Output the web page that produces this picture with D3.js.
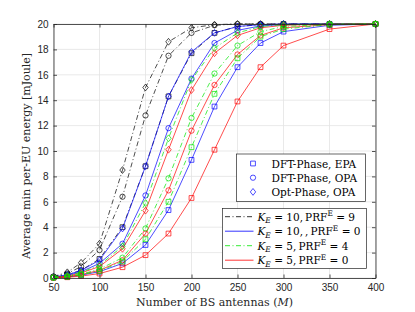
<!DOCTYPE html>
<html><head><meta charset="utf-8">
<script src="https://cdn.jsdelivr.net/npm/d3@7"></script>
<style>body{margin:0;background:#fff}svg{display:block}</style>
</head><body><svg id="c" width="415" height="312"></svg>
<script>
// ---- data ----
const antennas = [50,65,80,100,125,150,175,200,225,250,275,300,350,400];
const xTickValues = [50,100,150,200,250,300,350,400];
const yTickValues = [0,2,4,6,8,10,12,14,16,18,20];

// K_E = 10, PRF^E = 9 (black, dash-dot)
const k10p9Epa = [0.08,0.25,0.6,1.5,4.0,8.8,14.3,17.7,19.3,19.8,19.95,20,20,20];
const k10p9Opa = [0.1,0.35,0.9,2.2,6.4,12.8,17.5,19.3,19.9,20,20,20,20,20];
const k10p9Opt = [0.12,0.45,1.2,2.7,8.5,15.0,18.6,19.7,19.95,20,20,20,20,20];
// K_E = 10, PRF^E = 0 (blue, solid)
const k10p0Epa = [0.03,0.08,0.22,0.5,1.15,2.6,5.35,9.3,13.5,16.6,18.5,19.4,19.9,20];
const k10p0Opa = [0.06,0.2,0.5,1.15,2.7,6.5,11.8,15.7,18.5,19.5,19.85,19.95,20,20];
const k10p0Opt = [0.08,0.25,0.6,1.4,3.9,8.8,14.3,17.8,19.3,19.8,19.95,20,20,20];
// K_E = 5, PRF^E = 4 (green, dash-dot)
const k5p4Epa = [0.03,0.1,0.25,0.55,1.3,3.05,6.0,10.3,14.5,17.3,19.0,19.6,19.95,20];
const k5p4Opa = [0.04,0.12,0.3,0.7,1.6,3.9,7.85,12.6,16.1,18.3,19.4,19.8,19.98,20];
const k5p4Opt = [0.06,0.18,0.45,1.0,2.5,5.9,11.0,15.6,18.1,19.3,19.8,19.95,20,20];
// K_E = 5, PRF^E = 0 (red, solid)
const k5p0Epa = [0.02,0.06,0.15,0.35,0.85,1.8,3.5,6.3,10.1,13.9,16.6,18.3,19.6,20];
const k5p0Opa = [0.04,0.1,0.28,0.6,1.4,3.5,6.9,11.6,15.2,17.6,19.1,19.7,19.95,20];
const k5p0Opt = [0.05,0.15,0.4,0.9,2.3,5.3,10.1,14.8,17.7,19.1,19.7,19.9,20,20];

const methodLabels = ["DFT-Phase, EPA","DFT-Phase, OPA","Opt-Phase, OPA"];
const methodMarkers = ["square","circle","diamond"];
const configK = ["10","10","5","5"];
const configMid = [",\u2009",",\u2009,\u2009",",\u2009",",\u2009"];
const configPRF = ["9","0","4","0"];
const configColors = ["#000000","#0000ff","#00e600","#ff0000"];
const configDash = ["5,2.5,1,2.5",null,"5,2.5,1,2.5",null];

const seriesByConfig = [
  [k10p9Epa,k10p9Opa,k10p9Opt],
  [k10p0Epa,k10p0Opa,k10p0Opt],
  [k5p0Epa,k5p0Opa,k5p0Opt],
  [k5p4Epa,k5p4Opa,k5p4Opt]
];
const seriesConfigIdx = [0,1,3,2];

// ---- drawing ----
const svg = d3.select("#c");
const L=53.5, R=375.5, T=24, B=278;
const x = d3.scaleLinear().domain([50,400]).range([L,R]);
const y = d3.scaleLinear().domain([0,20]).range([B,T]);
const axisCol = "#262626";

svg.append("rect").attr("width",415).attr("height",312).attr("fill","#fff");

// grid
const g = svg.append("g");
g.selectAll(".gx").data(xTickValues).join("line")
  .attr("x1",d=>x(d)).attr("x2",d=>x(d)).attr("y1",T).attr("y2",B)
  .attr("stroke","#e3e3e3").attr("stroke-width",0.8);
g.selectAll(".gy").data(yTickValues).join("line")
  .attr("y1",d=>y(d)).attr("y2",d=>y(d)).attr("x1",L).attr("x2",R)
  .attr("stroke","#e3e3e3").attr("stroke-width",0.8);

// series
function markerPath(type){
  if(type==="square") return "M-2.4,-2.4H2.4V2.4H-2.4Z";
  if(type==="circle") return d3.symbol(d3.symbolCircle, 22)();
  return "M0,-3.4L2.7,0L0,3.4L-2.7,0Z";
}
const line = d3.line().x((d,i)=>x(antennas[i])).y(d=>y(d));
const plot = svg.append("g");
seriesByConfig.forEach((ser,ci)=>{
  const cfg = seriesConfigIdx[ci];
  ser.forEach((vals,mi)=>{
    plot.append("path").attr("d",line(vals)).attr("fill","none")
      .attr("stroke",configColors[cfg]).attr("stroke-width",0.7)
      .attr("stroke-dasharray",configDash[cfg]);
    plot.selectAll(null).data(vals).join("path")
      .attr("transform",(d,i)=>`translate(${x(antennas[i])},${y(d)})`)
      .attr("d",markerPath(methodMarkers[mi])).attr("fill","none")
      .attr("stroke",configColors[cfg]).attr("stroke-width",0.7);
  });
});

// axes
const fontSans = "'Liberation Sans', Arial, sans-serif";
const xa = svg.append("g").attr("transform",`translate(0,${B})`)
  .call(d3.axisBottom(x).tickValues(xTickValues).tickSizeInner(-3.5).tickSizeOuter(0).tickPadding(6));
const xt = svg.append("g").attr("transform",`translate(0,${T})`)
  .call(d3.axisTop(x).tickValues(xTickValues).tickSizeInner(-3.5).tickSizeOuter(0).tickFormat(""));
const ya = svg.append("g").attr("transform",`translate(${L},0)`)
  .call(d3.axisLeft(y).tickValues(yTickValues).tickSizeInner(-3.5).tickSizeOuter(0).tickPadding(5));
const yr = svg.append("g").attr("transform",`translate(${R},0)`)
  .call(d3.axisRight(y).tickValues(yTickValues).tickSizeInner(-3.5).tickSizeOuter(0).tickFormat(""));
[xa,xt,ya,yr].forEach(a=>{
  a.select(".domain").attr("stroke",axisCol).attr("stroke-width",0.8);
  a.selectAll(".tick line").attr("stroke",axisCol).attr("stroke-width",0.8);
  a.selectAll(".tick text").attr("fill",axisCol).attr("font-family",fontSans).attr("font-size",10);
});

// axis titles
const fontSerif = "'DejaVu Serif', 'Liberation Serif', serif";
const xl = svg.append("text").attr("x",(L+R)/2).attr("y",306).attr("text-anchor","middle")
  .attr("font-family",fontSerif).attr("font-size",11).attr("fill",axisCol);
xl.append("tspan").text("Number of BS antennas (");
xl.append("tspan").attr("font-style","italic").text("M");
xl.append("tspan").text(")");
svg.append("text").attr("transform",`translate(30,${(T+B)/2+5}) rotate(-90)`).attr("text-anchor","middle")
  .attr("font-family",fontSerif).attr("font-size",11).attr("fill",axisCol)
  .text("Average min per-EU energy [mJoule]");

// legend 1 (methods)
const lg1 = svg.append("g");
lg1.append("rect").attr("x",236.5).attr("y",154).attr("width",129).attr("height",47.5)
  .attr("fill","#fff").attr("stroke",axisCol).attr("stroke-width",0.7);
methodLabels.forEach((lab,i)=>{
  const yy = 163.5 + i*14.2;
  lg1.append("path").attr("transform",`translate(253,${yy})`).attr("d",markerPath(methodMarkers[i]))
    .attr("fill","none").attr("stroke","#0000ff").attr("stroke-width",0.7);
  lg1.append("text").attr("x",271.5).attr("y",yy+4).attr("font-family",fontSerif).attr("font-size",10.5)
    .attr("fill","#000").text(lab);
});

// legend 2 (configs)
const lg2 = svg.append("g");
lg2.append("rect").attr("x",222.5).attr("y",208.5).attr("width",144).attr("height",60)
  .attr("fill","#fff").attr("stroke",axisCol).attr("stroke-width",0.7);
configK.forEach((k,i)=>{
  const yy = 216.7 + i*14.5;
  lg2.append("line").attr("x1",225).attr("x2",253.5).attr("y1",yy).attr("y2",yy)
    .attr("stroke",configColors[i]).attr("stroke-width",0.8).attr("stroke-dasharray",configDash[i]);
  const t = lg2.append("text").attr("x",257.5).attr("y",yy+4).attr("font-family",fontSerif)
    .attr("font-size",10.5).attr("fill","#000");
  t.append("tspan").attr("font-style","italic").text("K");
  t.append("tspan").attr("font-style","italic").attr("font-size",7.5).attr("dy",2.5).text("E");
  t.append("tspan").attr("dy",-2.5).text(" = " + k + configMid[i] + "PRF");
  t.append("tspan").attr("font-size",7.5).attr("dy",-4.5).text("E");
  t.append("tspan").attr("dy",4.5).text(" = " + configPRF[i]);
});
</script></body></html>
